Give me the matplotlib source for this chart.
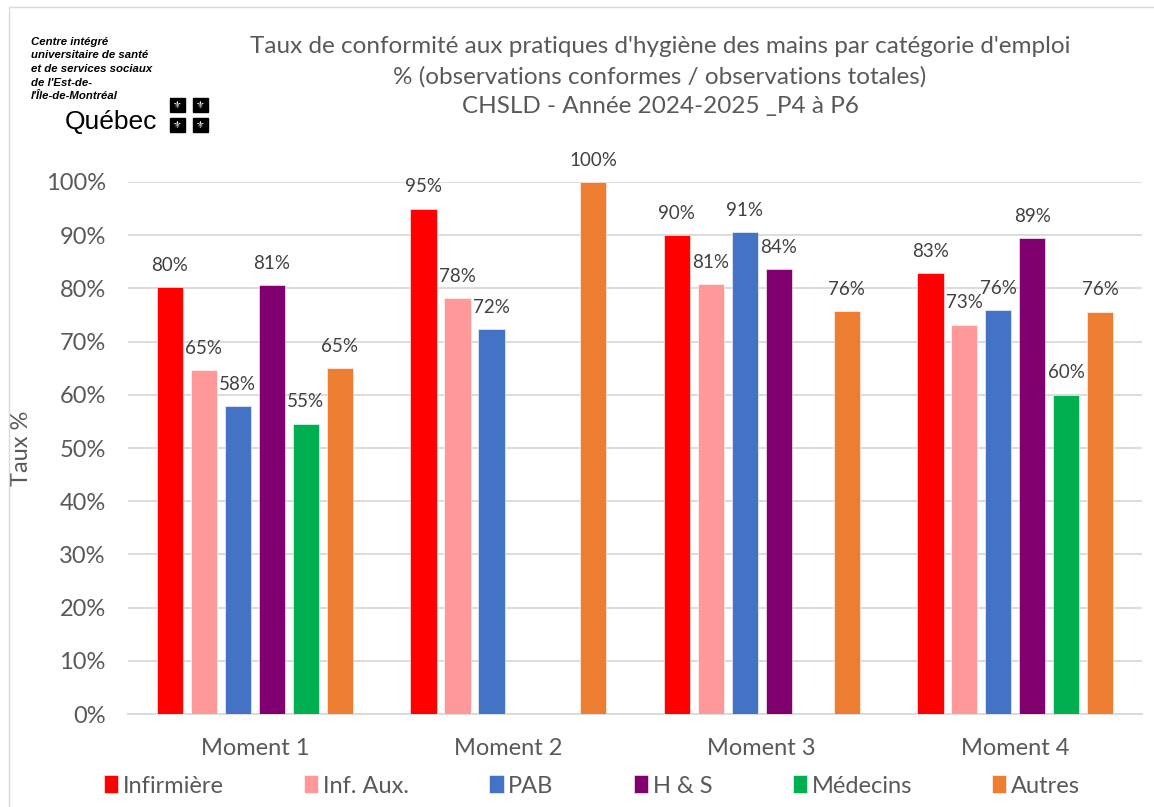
import numpy as np
import matplotlib.pyplot as plt
from matplotlib.patches import Rectangle

# data
moments = ["Moment 1", "Moment 2", "Moment 3", "Moment 4"]
series = ["Infirmière", "Inf. Aux.", "PAB", "H & S", "Médecins", "Autres"]
infirmiere = [80.2, 95.0, 90.0, 82.9]
inf_aux = [64.6, 78.1, 80.8, 73.2]
pab = [57.9, 72.3, 90.6, 75.9]
h_s = [80.6, np.nan, 83.6, 89.4]
medecins = [54.6, np.nan, np.nan, 60.0]
autres = [65.0, 100.0, 75.7, 75.6]
colors = ["#FF0000", "#FF9999", "#4472C4", "#800070", "#00B050", "#ED7D31"]

values = [infirmiere, inf_aux, pab, h_s, medecins, autres]

plt.rcParams['font.family'] = ['Lato', 'DejaVu Sans']
txt = "#595959"

fig = plt.figure(figsize=(11.54, 8.07), dpi=100)
ax = fig.add_axes([0.111, 0.1152, 0.8786, 0.6593])

x = np.arange(len(moments))
step = 0.134
width = 0.104
for i, (name, vals, c) in enumerate(zip(series, values, colors)):
    pos = x + (i - 2.5) * step
    ax.bar(pos, np.array(vals) / 100, width=width, color=c, label=name,
           edgecolor="white", linewidth=0.4, zorder=3)
    for p, v in zip(pos, vals):
        if not np.isnan(v):
            ax.text(p, v / 100 + 0.025, f"{v:.0f}%", ha="center", va="bottom",
                    fontsize=13.5, color="#404040")

ax.set_xlim(-0.5, 3.5)
ax.set_ylim(0, 1.0)
ax.set_yticks(np.arange(0, 1.01, 0.1))
ax.set_yticklabels([f"{int(round(t*100))}%" for t in np.arange(0, 1.01, 0.1)])
ax.set_xticks(x)
ax.set_xticklabels(moments)
ax.tick_params(axis="both", length=0, labelsize=17, colors=txt)
ax.tick_params(axis="x", pad=17)
ax.tick_params(axis="y", pad=16)
ax.grid(axis="y", color="#D9D9D9", linewidth=1.3, zorder=0)
for s in ["top", "right", "left"]:
    ax.spines[s].set_visible(False)
ax.spines["bottom"].set_color("#D9D9D9")
ax.spines["bottom"].set_linewidth(1.3)
ax.set_ylabel("Taux %", fontsize=17, color=txt, labelpad=10)

fig.text(0.572, 0.942, "Taux de conformité aux pratiques d'hygiène des mains par catégorie d'emploi",
         ha="center", va="center", fontsize=17.5, color=txt)
fig.text(0.572, 0.905, "% (observations conformes / observations totales)",
         ha="center", va="center", fontsize=17.5, color=txt)
fig.text(0.572, 0.868, "CHSLD - Année 2024-2025 _P4 à P6",
         ha="center", va="center", fontsize=17.5, color=txt)

# logo
logo = ["Centre intégré", "universitaire de santé", "et de services sociaux",
        "de l'Est-de-", "l'Île-de-Montréal"]
for k, line in enumerate(logo):
    fig.text(0.027, 1 - (42 + k * 13.5) / 807, line, fontsize=8.2, fontweight="bold",
             fontstyle="italic", color="black", va="center", family=["Liberation Sans", "DejaVu Sans"])
fig.text(0.056, 1 - 122 / 807, "Québec", fontsize=19, color="black", va="center",
         family=["Liberation Sans", "DejaVu Sans"])
for (px, py) in [(170, 98), (193, 98), (170, 118), (193, 118)]:
    fig.patches.append(Rectangle((px / 1154, 1 - (py + 14) / 807), 15 / 1154, 14 / 807,
                                 transform=fig.transFigure, color="black"))
    fig.text((px + 7.5) / 1154, 1 - (py + 7) / 807, "⚜", color="white", fontsize=7,
             ha="center", va="center", family=["DejaVu Sans"])

fig.patches.append(Rectangle((9 / 1154, -0.01), 1.0, 1 - 7 / 807 + 0.01,
                             transform=fig.transFigure, fill=False,
                             edgecolor="#D9D9D9", linewidth=1))

fig.legend(loc="center", bbox_to_anchor=(0.513, 1 - 786 / 807), ncol=6, frameon=False,
           fontsize=17, labelcolor=txt, handlelength=0.6, handleheight=0.8,
           handletextpad=0.2, columnspacing=3.4)

fig.savefig("out.png", dpi=100)
